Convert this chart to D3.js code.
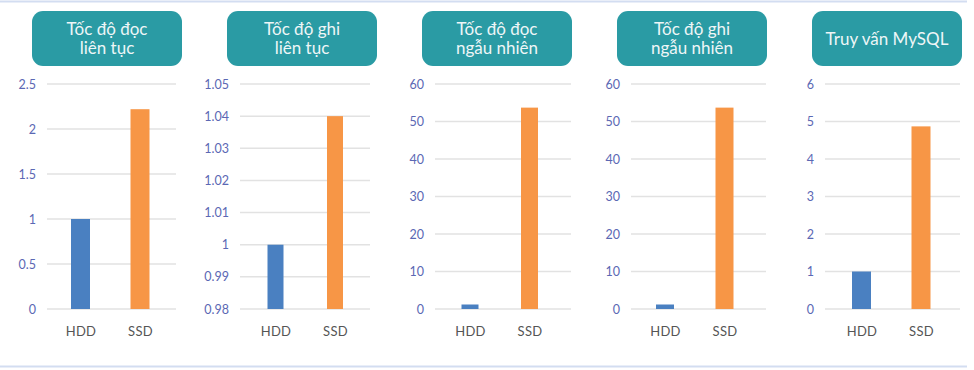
<!DOCTYPE html>
<html><head><meta charset="utf-8">
<script src="https://cdn.jsdelivr.net/npm/d3@7"></script>
<style>html,body{margin:0;padding:0;background:#fff;}svg{display:block;}</style>
</head><body>
<svg id="chart" width="974" height="370"></svg>
<script>
// ---- data ----
const categories = ["HDD", "SSD"];
const panelTitles = [
  ["Tốc độ đọc", "liên tục"],
  ["Tốc độ ghi", "liên tục"],
  ["Tốc độ đọc", "ngẫu nhiên"],
  ["Tốc độ ghi", "ngẫu nhiên"],
  ["Truy vấn MySQL"]
];
const hddValues = [1, 1, 1.2, 1.2, 1];
const ssdValues = [2.22, 1.04, 53.7, 53.7, 4.87];
const yMin = [0, 0.98, 0, 0, 0];
const yMax = [2.5, 1.05, 60, 60, 6];
const tickStep = [0.5, 0.01, 10, 10, 1];

// ---- layout ----
const gridLeft = [47, 240, 435, 631, 825];
const gridRight = [176, 370, 571, 766, 960];
const titleLeft = [32, 227, 422, 617, 812];
const firstBarCenter = [80.5, 275.5, 470, 665, 861.5];
const barStep = 59.5;
const barWidth = [19, 16, 17, 18, 19];
const yTop = 84, yBottom = 309;

const svg = d3.select("#chart");
const font = "Lato, 'Open Sans', sans-serif";

// borders
svg.append("line").attr("x1", 0).attr("x2", 967).attr("y1", 1.5).attr("y2", 1.5)
  .attr("stroke", "#d3ddf1").attr("stroke-width", 2);
svg.append("line").attr("x1", 0).attr("x2", 967).attr("y1", 366.5).attr("y2", 366.5)
  .attr("stroke", "#d3ddf1").attr("stroke-width", 2);

panelTitles.forEach((title, i) => {
  const g = svg.append("g");
  // title box
  g.append("rect").attr("x", titleLeft[i]).attr("y", 11).attr("width", 150).attr("height", 55)
    .attr("rx", 11).attr("fill", "#2a9ba4");
  const cx = titleLeft[i] + 75;
  const baselines = title.length === 1 ? [45] : [35, 54];
  title.forEach((t, j) => {
    g.append("text").attr("x", cx).attr("y", baselines[j]).attr("text-anchor", "middle")
      .attr("font-family", font).attr("font-size", 17).attr("fill", "#eef6f7").text(t);
  });

  const y = d3.scaleLinear().domain([yMin[i], yMax[i]]).range([yBottom, yTop]);
  const x = d3.scalePoint().domain(categories)
    .range([firstBarCenter[i], firstBarCenter[i] + barStep]).padding(0);
  const ticks = d3.range(yMin[i], yMax[i] + tickStep[i] / 2, tickStep[i]).map(v => +v.toFixed(4));

  // gridlines
  g.selectAll(".grid").data(ticks).enter().append("line")
    .attr("x1", gridLeft[i]).attr("x2", gridRight[i])
    .attr("y1", d => y(d)).attr("y2", d => y(d))
    .attr("stroke", "#e2e2e2").attr("stroke-width", 1.5);

  // y axis labels
  const yAxis = d3.axisLeft(y).tickValues(ticks).tickSize(0).tickPadding(0)
    .tickFormat(d => String(+d.toFixed(4)));
  const ag = g.append("g").attr("transform", `translate(${gridLeft[i] - 11},0)`).call(yAxis);
  ag.select(".domain").remove();
  ag.selectAll("text").attr("font-family", font).attr("font-size", 12.5).attr("fill", "#5b68b4");

  // bars
  const vals = [hddValues[i], ssdValues[i]];
  const colors = ["#4a80c1", "#f79646"];
  g.selectAll(".bar").data(categories).enter().append("rect")
    .attr("x", d => x(d) - barWidth[i] / 2)
    .attr("width", barWidth[i])
    .attr("y", (d, k) => y(vals[k]))
    .attr("height", (d, k) => y(yMin[i]) - y(vals[k]))
    .attr("fill", (d, k) => colors[k]);

  // x axis labels
  const xAxis = d3.axisBottom(x).tickSize(0).tickPadding(0);
  const xg = g.append("g").attr("transform", `translate(0,${yBottom + 18})`).call(xAxis);
  xg.select(".domain").remove();
  xg.selectAll("text").attr("font-family", font).attr("font-size", 13).attr("fill", "#555")
    .attr("letter-spacing", 0.3);
});
</script>
</body></html>
